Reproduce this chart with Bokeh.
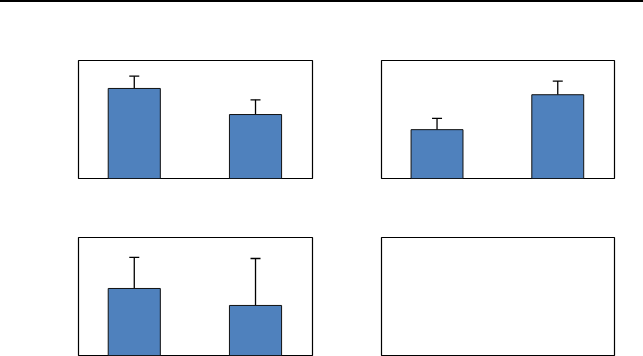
from bokeh.plotting import figure
from bokeh.layouts import row, column
from bokeh.models import Range1d, ColumnDataSource, Whisker, TeeHead, Spacer
from bokeh.embed import file_html
from bokeh.resources import INLINE

# ---- data (y as % of panel height) ----
groups = ["Group 1", "Group 2"]
tl_means = [76.3, 54.2]
tl_errors = [10.4, 12.5]
tr_means = [41.4, 71.0]
tr_errors = [9.6, 11.6]
bl_means = [56.8, 42.4]
bl_errors = [26.3, 39.8]

BAR_COLOR = "#4F81BD"


def panel(means, errors, width, left, right, top, bottom, frame_h=118):
    p = figure(width=width, height=top + frame_h + bottom,
               x_range=Range1d(0.54, 2.47), y_range=Range1d(0, 100),
               output_backend="svg", toolbar_location=None,
               x_axis_location=None, y_axis_location=None,
               min_border_left=left, min_border_right=right,
               min_border_top=top, min_border_bottom=bottom)
    p.grid.visible = False
    p.outline_line_color = "black"
    p.outline_line_width = 1.2
    p.outline_line_alpha = 1
    p.background_fill_color = "white"
    p.border_fill_color = "white"
    if means:
        xs = [i + 1 for i in range(len(groups))]
        src = ColumnDataSource(dict(
            x=xs, top=means,
            upper=[m + e for m, e in zip(means, errors)]))
        p.vbar(x="x", top="top", bottom=0, width=0.43, source=src,
               fill_color=BAR_COLOR, line_color="#111111", line_width=1)
        w = Whisker(base="x", lower="top", upper="upper", source=src,
                    line_color="black", line_width=1.3,
                    lower_head=None,
                    upper_head=TeeHead(size=10, line_color="black", line_width=1.3))
        p.add_layout(w)
    return p


p1 = panel(tl_means, tl_errors, 332, 78, 20, 58, 30)
p2 = panel(tr_means, tr_errors, 311, 49, 29, 58, 30)
p3 = panel(bl_means, bl_errors, 332, 78, 20, 29, 1)
p4 = panel([], [], 311, 49, 29, 29, 1)

rule = Spacer(width=643, height=2, styles={"background-color": "black"})

layout = column(rule, row(p1, p2), row(p3, p4))

open("out.html", "w").write(file_html(layout, INLINE))
